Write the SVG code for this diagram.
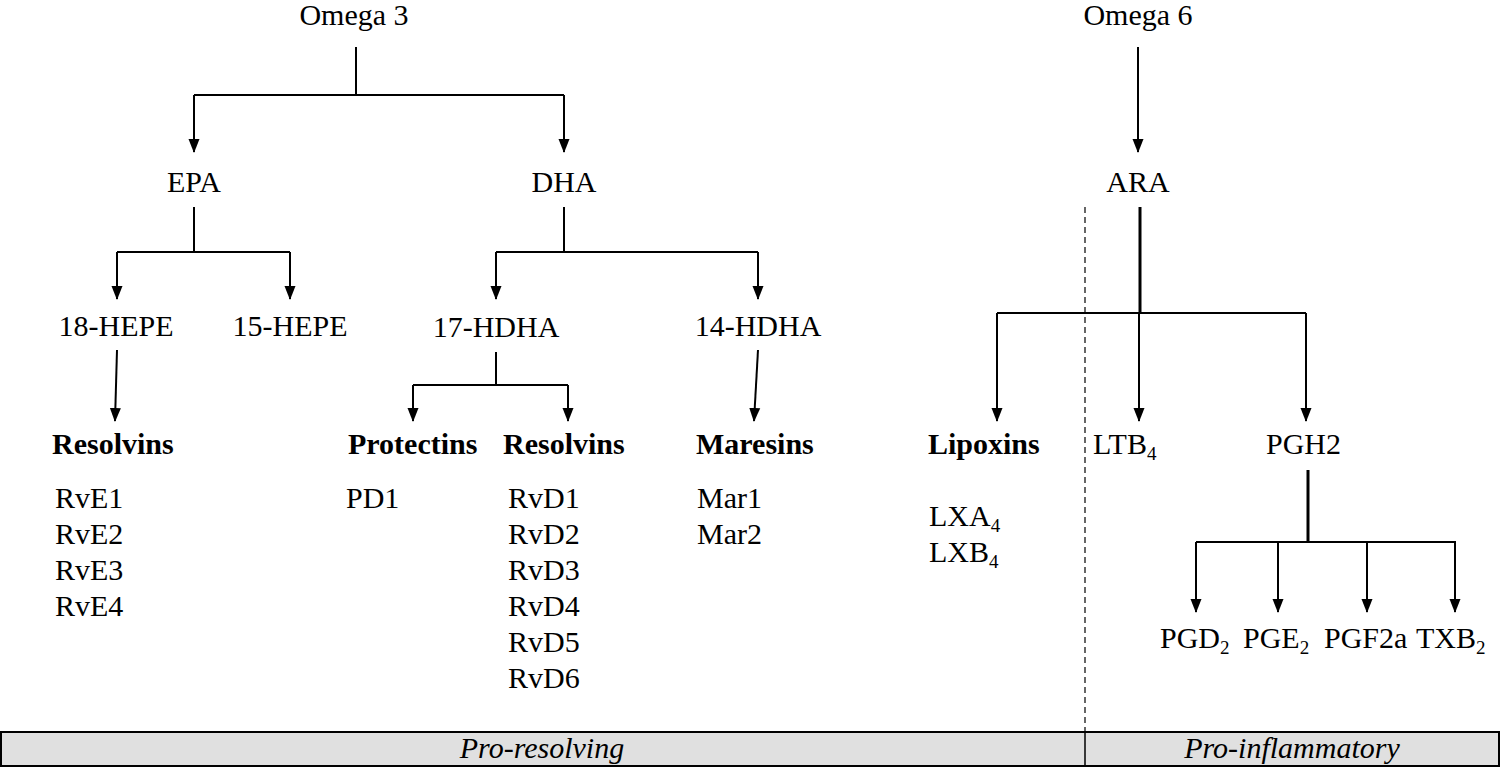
<svg xmlns="http://www.w3.org/2000/svg" width="1500" height="767" viewBox="0 0 1500 767">
<style>
text{font-family:"Liberation Serif","Times New Roman",serif;font-size:30px;fill:#000}
.c{text-anchor:middle}
.b{font-weight:bold}
.i{font-style:italic}
.sub{font-size:19px}
.ln{stroke:#000;stroke-width:2;fill:none}
.thick{stroke:#000;stroke-width:3;fill:none}
.arr{stroke:#000;stroke-width:2;fill:none;marker-end:url(#ah)}
</style>
<defs>
<marker id="ah" markerWidth="14" markerHeight="12" refX="13" refY="6" orient="auto" markerUnits="userSpaceOnUse" viewBox="0 0 14 12">
<path d="M0,0.5 L14,6 L0,11.5 Z" fill="#000"/>
</marker>
</defs>
<rect width="1500" height="767" fill="#fff"/>
<g id="connectors">
<path class="ln" d="M356,47 V95 M194,95 H564"/>
<path class="arr" d="M194,95 V152"/>
<path class="arr" d="M564,95 V152"/>
<path class="ln" d="M194,207 V252 M117,252 H290"/>
<path class="arr" d="M117,252 V299"/>
<path class="arr" d="M290,252 V299"/>
<path class="ln" d="M564,207 V252 M496,252 H758"/>
<path class="arr" d="M496,252 V299"/>
<path class="arr" d="M758,252 V299"/>
<path class="arr" d="M117,350 L115,421"/>
<path class="ln" d="M496,352 V385 M413,385 H568"/>
<path class="arr" d="M413,385 V421"/>
<path class="arr" d="M568,385 V421"/>
<path class="arr" d="M758,350 L754,421"/>
<path class="arr" d="M1138,47 V152"/>
<path class="thick" d="M1140,207 V313"/>
<path class="ln" d="M997,313 H1306"/>
<path class="arr" d="M997,313 V421"/>
<path class="arr" d="M1139,313 V421"/>
<path class="arr" d="M1306,313 V421"/>
<path class="thick" d="M1308,470 V542"/>
<path class="ln" d="M1196,542 H1456"/>
<path class="arr" d="M1196,542 V612"/>
<path class="arr" d="M1278,542 V612"/>
<path class="arr" d="M1367,542 V612"/>
<path class="arr" d="M1455,542 V612"/>
<path d="M1085,207 V732" stroke="#000" stroke-width="1.2" stroke-dasharray="6,4"/>
</g>
<g id="n-omega3"><text class="c" x="354" y="25">Omega 3</text></g>
<g id="n-omega6"><text class="c" x="1138" y="25">Omega 6</text></g>
<g id="n-epa"><text class="c" x="194" y="192">EPA</text></g>
<g id="n-dha"><text class="c" x="564" y="192">DHA</text></g>
<g id="n-ara"><text class="c" x="1138" y="192">ARA</text></g>
<g id="n-18hepe"><text class="c" x="116" y="336">18-HEPE</text></g>
<g id="n-15hepe"><text class="c" x="290" y="336">15-HEPE</text></g>
<g id="n-17hdha"><text class="c" x="496" y="337">17-HDHA</text></g>
<g id="n-14hdha"><text class="c" x="758" y="336">14-HDHA</text></g>
<g id="n-resolvins-e">
<text class="b" x="52" y="454">Resolvins</text>
<text x="55" y="508">RvE1</text>
<text x="55" y="544">RvE2</text>
<text x="55" y="580">RvE3</text>
<text x="55" y="616">RvE4</text>
</g>
<g id="n-protectins">
<text class="b" x="348" y="454">Protectins</text>
<text x="346" y="508">PD1</text>
</g>
<g id="n-resolvins-d">
<text class="b" x="503" y="454">Resolvins</text>
<text x="508" y="508">RvD1</text>
<text x="508" y="544">RvD2</text>
<text x="508" y="580">RvD3</text>
<text x="508" y="616">RvD4</text>
<text x="508" y="652">RvD5</text>
<text x="508" y="688">RvD6</text>
</g>
<g id="n-maresins">
<text class="b" x="696" y="454">Maresins</text>
<text x="697" y="508">Mar1</text>
<text x="697" y="544">Mar2</text>
</g>
<g id="n-lipoxins">
<text class="b" x="928" y="454">Lipoxins</text>
<text x="929" y="526">LXA<tspan class="sub" dy="6">4</tspan></text>
<text x="929" y="562">LXB<tspan class="sub" dy="6">4</tspan></text>
</g>
<g id="n-ltb4"><text x="1093" y="454">LTB<tspan class="sub" dy="6">4</tspan></text></g>
<g id="n-pgh2"><text x="1266" y="454">PGH2</text></g>
<g id="n-pgd2"><text x="1160" y="648">PGD<tspan class="sub" dy="6">2</tspan></text></g>
<g id="n-pge2"><text x="1243" y="648">PGE<tspan class="sub" dy="6">2</tspan></text></g>
<g id="n-pgf2a"><text x="1324" y="648">PGF2a</text></g>
<g id="n-txb2"><text x="1416" y="648">TXB<tspan class="sub" dy="6">2</tspan></text></g>
<g id="legend">
<rect x="1" y="732" width="1498" height="34" fill="#e0e0e0" stroke="#000" stroke-width="2"/>
<line x1="1085" y1="732" x2="1085" y2="766" stroke="#000" stroke-width="1.5"/>
<text class="c i" x="542" y="758">Pro-resolving</text>
<text class="c i" x="1292" y="758">Pro-inflammatory</text>
</g>
</svg>
